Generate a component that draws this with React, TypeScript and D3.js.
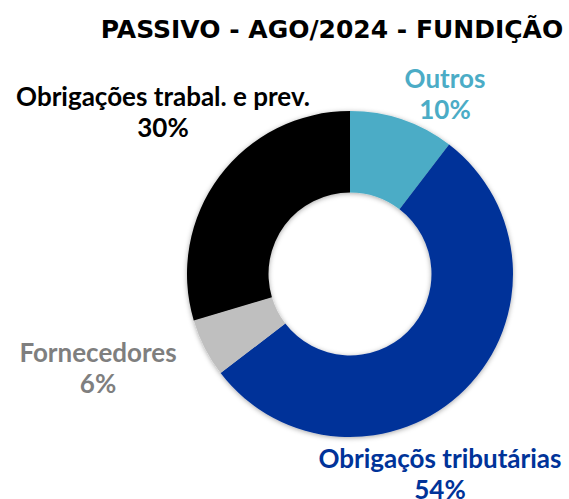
import * as d3 from 'd3';
import { useEffect, useRef } from 'react';

interface Slice {
  label: string;
  value: number;
  color: string;
  textColor: string;
}

// Clockwise from 12 o'clock, as in the source sheet
const CATEGORIES = ['Outros', 'Obrigaçõs tributárias', 'Fornecedores', 'Obrigações trabal. e prev.'];
const VALUES = [10.4, 54.2, 5.8, 29.6];
const SLICE_COLORS = ['#4bacc6', '#003399', '#bfbfbf', '#000000'];
const LABEL_COLORS = ['#4bacc6', '#003399', '#7f7f7f', '#000000'];

const TITLE = 'PASSIVO - AGO/2024 - FUNDIÇÃO';

const WIDTH = 569;
const HEIGHT = 499;
const FONT = 'Lato, "Open Sans", sans-serif';
const TITLE_FONT = '"DejaVu Sans", Verdana, sans-serif';

// label anchors (text center, first baseline) - labels were dragged by hand in the original
const LABEL_POS: [number, number][] = [
  [445, 88],
  [440, 468],
  [98, 362],
  [163, 106],
];

export default function App() {
  const svgRef = useRef<SVGSVGElement>(null);

  useEffect(() => {
    if (!svgRef.current) return;
    const svg = d3.select(svgRef.current);
    svg.selectAll('*').remove();

    const data: Slice[] = CATEGORIES.map((label, i) => ({
      label,
      value: VALUES[i],
      color: SLICE_COLORS[i],
      textColor: LABEL_COLORS[i],
    }));
    const total = d3.sum(data, (d) => d.value);

    const cx = 350;
    const cy = 274;
    const outer = 163;
    const inner = 81.5;

    // soft shadow like the office chart
    const defs = svg.append('defs');
    const filter = defs
      .append('filter')
      .attr('id', 'shadow')
      .attr('x', '-20%')
      .attr('y', '-20%')
      .attr('width', '140%')
      .attr('height', '140%');
    filter
      .append('feDropShadow')
      .attr('dx', 0)
      .attr('dy', 1)
      .attr('stdDeviation', 2.5)
      .attr('flood-color', '#000')
      .attr('flood-opacity', 0.35);

    const pie = d3
      .pie<Slice>()
      .value((d) => d.value)
      .sort(null);

    const arc = d3.arc<d3.PieArcDatum<Slice>>().innerRadius(inner).outerRadius(outer);

    const g = svg
      .append('g')
      .attr('transform', `translate(${cx},${cy})`)
      .attr('filter', 'url(#shadow)');

    g.selectAll('path')
      .data(pie(data))
      .enter()
      .append('path')
      .attr('d', arc)
      .attr('fill', (d) => d.data.color);

    // title
    svg
      .append('text')
      .attr('x', 332)
      .attr('y', 38)
      .attr('text-anchor', 'middle')
      .attr('font-family', TITLE_FONT)
      .attr('font-weight', 700)
      .attr('font-size', 25)
      .attr('fill', '#000')
      .text(TITLE);

    // data labels: name + percent
    const labels = svg
      .append('g')
      .selectAll('text')
      .data(data)
      .enter()
      .append('text')
      .attr('text-anchor', 'middle')
      .attr('font-family', FONT)
      .attr('font-weight', 700)
      .attr('font-size', 26)
      .attr('fill', (d) => d.textColor);

    labels
      .append('tspan')
      .attr('x', (_d, i) => LABEL_POS[i][0])
      .attr('y', (_d, i) => LABEL_POS[i][1])
      .text((d) => d.label);

    labels
      .append('tspan')
      .attr('x', (_d, i) => LABEL_POS[i][0])
      .attr('y', (_d, i) => LABEL_POS[i][1] + 31)
      .text((d) => `${Math.round((d.value / total) * 100)}%`);
  }, []);

  return (
    <div style={{ position: 'absolute', left: 0, top: 0, width: WIDTH, height: HEIGHT, background: '#fff' }}>
      <svg ref={svgRef} width={WIDTH} height={HEIGHT} style={{ display: 'block' }} />
    </div>
  );
}
